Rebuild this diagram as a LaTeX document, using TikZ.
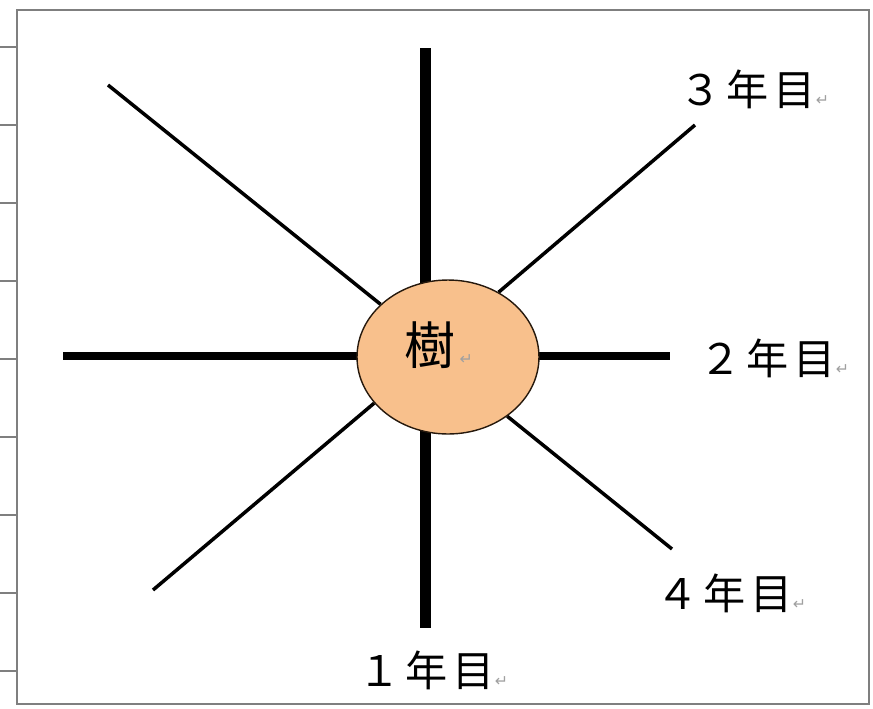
\documentclass[tikz,border=0pt]{standalone}
\usepackage{fontspec}
\usepackage{tikz}
\usetikzlibrary{shapes.geometric,backgrounds}
\newfontfamily\jpfont[LetterSpace=12]{Noto Sans CJK JP}
\newfontfamily\kanjifont{Noto Sans CJK JP}
\newfontfamily\symfont{DejaVu Sans}
\definecolor{trunk}{HTML}{F8C08C}
\definecolor{framegray}{HTML}{7F7F7F}
\definecolor{markgray}{HTML}{A0A0A0}
\newcommand{\parmark}{{\symfont\fontsize{9}{9}\selectfont\color{markgray}↵}}
\tikzset{
  trunkball/.style={
    ellipse, draw=black!80!brown, fill=trunk, line width=0.8pt,
    minimum width=3.64cm, minimum height=3.08cm, inner sep=0pt
  },
  mainline/.style={
    line width=#1, black, line cap=butt
  },
  mainline/.default=0.2cm,
  branchline/.style={
    line width=0.07cm, black
  },
  yearlabel/.style={
    font=\jpfont\fontsize{24}{24}\selectfont, anchor=west, inner sep=0pt
  },
  tick/.style={
    framegray, line width=0.6pt
  },
}

\begin{document}
\begin{tikzpicture}[x=0.02cm, y=-0.02cm]
  \useasboundingbox (0,0) rectangle (873,708);
  % frame and ruler ticks
  \draw[framegray, line width=1.6pt] (17,10) rectangle (869,704);
  \foreach \k in {0,...,8}
    \draw[tick] (0,47+78*\k) -- (17,47+78*\k);

  % centre
  \node[trunkball] (tree) at (448,357) {};
  \node[font=\kanjifont\fontsize{29}{29}\selectfont, inner sep=0pt] (kanji) at (430,345) {樹};
  \node[anchor=base west, inner sep=0pt] (kanjimark) at ([xshift=2pt]kanji.base east) {\parmark};

  % line ends
  \coordinate (n) at (425,48);
  \coordinate (s) at (425,628);
  \coordinate (w) at (63,356);
  \coordinate (e) at (670,356);
  \coordinate (nw) at (108,85);
  \coordinate (ne) at (695,125);
  \coordinate (sw) at (153,590);
  \coordinate (se) at (672,549);

  \begin{pgfonlayer}{background}
    \draw[mainline=0.22cm] (n) -- (s);
    \draw[mainline=0.17cm] (w) -- (e);
    \draw[branchline] (nw) -- (tree.142);
    \draw[branchline] (ne) -- (tree.52);
    \draw[branchline] (sw) -- (tree.212);
    \draw[branchline] (se) -- (tree.315);
  \end{pgfonlayer}

  % years
  \node[yearlabel] (y3) at (679,89) {３年目\parmark};
  \node[yearlabel] (y2) at (699,358) {２年目\parmark};
  \node[yearlabel] (y4) at (656,593) {４年目\parmark};
  \node[yearlabel] (y1) at (358,670) {１年目\parmark};
\end{tikzpicture}
\end{document}
